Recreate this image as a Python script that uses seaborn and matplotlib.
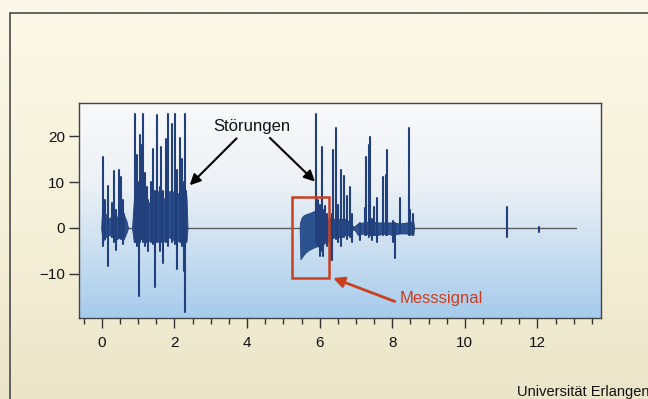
import numpy as np
import pandas as pd
import matplotlib
matplotlib.use("Agg")
import matplotlib.pyplot as plt
import seaborn as sns
from matplotlib.lines import Line2D
from matplotlib.patches import Rectangle
from matplotlib.colors import LinearSegmentedColormap
from matplotlib.ticker import MultipleLocator

# ---------------- data ----------------
# isolated spikes: time, positive peak, negative peak
spike_t = [0.02, 0.08, 0.18, 0.27, 0.33, 0.40, 0.48, 0.54, 0.57, 0.62,
           0.91, 0.97, 1.01, 1.05, 1.10, 1.14, 1.20, 1.25, 1.28, 1.34,
           1.40, 1.47, 1.52, 1.60, 1.64, 1.69, 1.76, 1.83, 1.92, 2.01,
           2.06, 2.15, 2.20, 2.26, 2.29, 2.33,
           5.91, 5.96, 6.02, 6.07, 6.10, 6.14, 6.20, 6.28, 6.35, 6.37,
           6.45, 6.51, 6.60, 6.67, 6.74, 6.83, 6.88, 7.11, 7.25, 7.27,
           7.36, 7.40, 7.43, 7.49, 7.57, 7.75, 7.82, 7.86, 8.03, 8.07,
           8.21, 8.47, 8.50, 8.58, 11.15, 12.05]
spike_top = [15.4, 6.0, 9.1, 5.4, 12.4, 4.0, 12.6, 11.0, 6.0, 3.0,
             24.8, 15.9, 10.0, 20.2, 18.0, 24.7, 12.0, 9.0, 6.0, 10.0,
             17.2, 8.0, 24.6, 9.0, 17.7, 8.0, 19.3, 24.9, 22.7, 24.8,
             12.6, 19.5, 15.0, 10.0, 24.8, 8.0,
             24.9, 6.0, 5.0, 17.7, 4.0, 4.8, 3.0, 2.0, 3.0, 17.0,
             21.7, 5.0, 12.6, 11.4, 7.0, 9.0, 3.0, 1.0, 4.4, 15.5,
             18.0, 19.9, 2.0, 4.6, 6.6, 11.0, 11.5, 17.0, 1.5, 1.0,
             6.5, 21.7, 4.0, 3.0, 4.5, 0.2]
spike_bot = [-4.0, -2.5, -8.3, -2.0, -3.0, -4.8, -2.0, -2.5, -3.6, -1.5,
             -3.0, -4.0, -14.9, -3.0, -2.5, -3.0, -4.0, -3.0, -5.0, -3.0,
             -3.5, -12.9, -3.0, -5.0, -3.0, -7.7, -3.0, -4.0, -3.0, -3.5,
             -9.0, -3.0, -4.0, -9.3, -18.2, -3.0,
             -3.0, -4.0, -6.0, -5.0, -6.2, -3.0, -4.0, -7.3, -7.0, -2.0,
             -2.5, -3.0, -4.0, -2.0, -2.5, -2.0, -3.0, -2.6, -1.5, -1.5,
             -2.0, -1.5, -2.6, -1.5, -3.0, -1.5, -1.5, -1.5, -3.0, -6.5,
             -1.0, -1.5, -1.5, -1.5, -2.0, -0.8]

# dense bursts: envelope of the oscillation
burst_a_t = [-0.02, 0.02, 0.10, 0.20, 0.30, 0.40, 0.50, 0.60, 0.68, 0.72]
burst_a_top = [0.0, 6.0, 3.0, 2.0, 3.0, 2.0, 4.0, 3.0, 1.5, 0.0]
burst_a_bot = [0.0, -3.0, -2.0, -1.5, -2.0, -2.5, -2.0, -2.5, -1.0, 0.0]

burst_b_t = [0.83, 0.88, 0.95, 1.05, 1.15, 1.25, 1.35, 1.45, 1.55,
             1.65, 1.75, 1.85, 1.95, 2.05, 2.15, 2.25, 2.33, 2.36]
burst_b_top = [0.0, 6.0, 8.0, 9.0, 8.0, 6.0, 5.0, 7.0, 8.0,
               7.0, 6.0, 8.0, 8.0, 7.0, 8.0, 6.0, 7.0, 0.0]
burst_b_bot = [0.0, -3.0, -3.0, -2.5, -2.0, -3.0, -2.5, -2.5, -3.0,
               -2.5, -3.0, -2.0, -2.5, -3.0, -2.5, -3.0, -3.0, 0.0]

burst_c_t = [5.91, 6.0, 6.1, 6.2, 6.3, 6.4, 6.5, 6.6, 6.7, 6.8, 6.9, 6.95,
             7.05, 7.2, 7.4, 7.6, 7.8, 8.0, 8.2, 8.4, 8.58, 8.6]
burst_c_top = [4.0, 4.0, 4.0, 2.0, 1.5, 2.0, 2.0, 2.0, 2.0, 1.5, 0.5, 0.3,
               1.0, 1.2, 1.5, 1.2, 1.2, 1.2, 1.0, 1.2, 1.5, 0.0]
burst_c_bot = [-4.0, -4.0, -3.5, -3.0, -2.5, -2.0, -2.0, -2.0, -1.5, -1.5, -0.5, -0.3,
               -1.5, -1.2, -1.5, -1.5, -1.2, -1.5, -1.2, -1.2, -1.5, 0.0]

# measuring signal block
meas_t = [5.45, 5.47, 5.50, 5.55, 5.62, 5.70, 5.80, 5.91]
meas_top = [0.5, 1.5, 2.2, 2.7, 3.0, 3.2, 3.5, 4.0]
meas_bot = [-0.5, -6.8, -6.5, -5.9, -5.3, -4.8, -4.4, -4.0]

baseline_t = [0.0, 13.05]
baseline_v = [0.0, 0.0]

x_ticks = [0, 2, 4, 6, 8, 10, 12]
y_ticks = [-10, 0, 10, 20]
label_noise = "Störungen"
label_signal = "Messsignal"
credit = "Universität Erlangen"

# ---------------- figure ----------------
sns.set_theme(style="white")
plt.rcParams["font.family"] = ["Liberation Sans", "DejaVu Sans"]

W, H = 648, 399
fig = plt.figure(figsize=(W / 100, H / 100), dpi=100)

# paper background
bg = fig.add_axes([0, 0, 1, 1], zorder=-10)
paper = LinearSegmentedColormap.from_list("paper", ["#fcf9ea", "#f6f1da", "#ebe6c9"])
bg.imshow(np.linspace(0, 1, 200).reshape(-1, 1), cmap=paper, aspect="auto",
          extent=[0, 1, 0, 1], origin="upper")
bg.set_xlim(0, 1); bg.set_ylim(0, 1)
bg.axis("off")
fx = 10 / W
fy = 1 - 13 / H
bg.add_line(Line2D([fx, fx], [0, fy], color="#4a4a4a", lw=1.2))
bg.add_line(Line2D([fx, 1], [fy, fy], color="#4a4a4a", lw=1.2))

ax = fig.add_axes([79 / W, 1 - 318 / H, (601 - 79) / W, (318 - 103) / H])
xlim = (-0.63, 13.75)
ylim = (-19.6, 27.2)
ax.set_xlim(*xlim)
ax.set_ylim(*ylim)

sky = LinearSegmentedColormap.from_list("sky", [(0, "#f8f9fa"), (0.35, "#eef2f6"),
                                               (0.6, "#d4e4f2"), (1.0, "#a6cbec")])
ax.imshow(np.linspace(0, 1, 200).reshape(-1, 1), cmap=sky, aspect="auto",
          extent=[xlim[0], xlim[1], ylim[0], ylim[1]], origin="upper", zorder=0)

navy = "#22407c"
sns.lineplot(x=baseline_t, y=baseline_v, ax=ax, color="#5c5c5c", lw=1.0, zorder=2)

for tt, top, bot in [(burst_a_t, burst_a_top, burst_a_bot),
                     (burst_b_t, burst_b_top, burst_b_bot),
                     (burst_c_t, burst_c_top, burst_c_bot),
                     (meas_t, meas_top, meas_bot)]:
    ax.fill_between(tt, bot, top, color="#2d5290", lw=0.6, edgecolor=navy, zorder=3)

# signal trace: each spike is its own stroke from peak to trough
sx, sy, su = [], [], []
for i, (t, top, bot) in enumerate(zip(spike_t, spike_top, spike_bot)):
    sx += [t, t]
    sy += [top, bot]
    su += [i, i]
sig = pd.DataFrame({"t": sx, "v": sy, "spike": su})
sns.lineplot(data=sig, x="t", y="v", units="spike", sort=False, estimator=None, ax=ax,
             color=navy, lw=1.5, zorder=4)

ax.set_xlabel("")
ax.set_ylabel("")
ax.set_xticks(x_ticks)
ax.set_yticks(y_ticks)
ax.set_xticklabels([str(v) for v in x_ticks])
ax.set_yticklabels(["\u2212" + str(-v) if v < 0 else str(v) for v in y_ticks])
ax.xaxis.set_minor_locator(MultipleLocator(0.5))
ax.tick_params(axis="both", which="major", direction="out", length=7, width=1,
               color="#333333", labelsize=11, labelcolor="#111111", pad=3,
               bottom=True, left=True)
ax.tick_params(axis="x", which="minor", direction="out", length=4, width=1,
               color="#333333", bottom=True)
ax.tick_params(axis="x", which="major", pad=6)
for s in ax.spines.values():
    s.set_color("#444444")
    s.set_linewidth(1.0)
ax.grid(False)

# annotations
ax.text(4.13, 22.0, label_noise, ha="center", va="center", fontsize=12, color="#111111")
ax.annotate("", xy=(2.42, 9.3), xytext=(3.71, 19.5),
            arrowprops=dict(arrowstyle="-|>", color="black", lw=1.5, mutation_scale=16,
                            shrinkA=0, shrinkB=0), zorder=6)
ax.annotate("", xy=(5.87, 10.1), xytext=(4.63, 19.6),
            arrowprops=dict(arrowstyle="-|>", color="black", lw=1.5, mutation_scale=16,
                            shrinkA=0, shrinkB=0), zorder=6)

red = "#c9401f"
ax.add_patch(Rectangle((5.25, -10.9), 6.26 - 5.25, 6.67 + 10.9, fill=False,
                       edgecolor=red, lw=1.8, zorder=7))
ax.annotate("", xy=(6.37, -10.9), xytext=(8.07, -16.0),
            arrowprops=dict(arrowstyle="-|>", color=red, lw=2.0, mutation_scale=16,
                            shrinkA=0, shrinkB=0), zorder=7)
ax.text(8.21, -15.3, label_signal, ha="left", va="center", fontsize=12, color=red)

fig.text(517 / W, 1 - 392 / H, credit, ha="left", va="center", fontsize=10.5,
         color="#111111")

fig.savefig("out.png", dpi=100)
